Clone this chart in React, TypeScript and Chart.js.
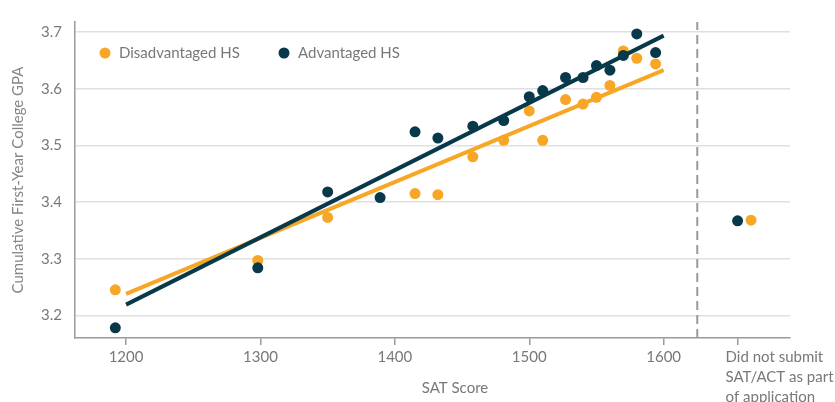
import { useEffect, useRef } from 'react';
import { Chart, registerables } from 'chart.js';

Chart.register(...registerables);

// ---- data ----
const disadvSat = [1192, 1298, 1350, 1415, 1432, 1458, 1481, 1500, 1510, 1527, 1540, 1550, 1560, 1570, 1580, 1594];
const disadvGpa = [3.245, 3.297, 3.373, 3.415, 3.413, 3.48, 3.509, 3.561, 3.509, 3.581, 3.573, 3.585, 3.606, 3.667, 3.654, 3.644];
const advSat = [1192, 1298, 1350, 1389, 1415, 1432, 1458, 1481, 1500, 1510, 1527, 1540, 1550, 1560, 1570, 1580, 1594];
const advGpa = [3.178, 3.284, 3.418, 3.408, 3.524, 3.513, 3.534, 3.544, 3.586, 3.597, 3.62, 3.62, 3.641, 3.633, 3.659, 3.697, 3.664];
const nonSubmitSat = [1665, 1655]; // [disadvantaged, advantaged] plotted beside the category tick
const nonSubmitGpa = [3.368, 3.367];
const disadvFitSat = [1200, 1600];
const disadvFitGpa = [3.238, 3.633];
const advFitSat = [1200, 1600];
const advFitGpa = [3.219, 3.694];
const xTickValues = [1200, 1300, 1400, 1500, 1600];
const nonSubmitTick = 1655;
const nonSubmitLabel = ['Did not submit', 'SAT/ACT as part', 'of application'];
const yTickValues = [3.2, 3.3, 3.4, 3.5, 3.6, 3.7];
const dividerSat = 1625;
const xRange = [1162, 1694];
const yRange = [3.16, 3.718];
const seriesNames = ['Disadvantaged HS', 'Advantaged HS'];

const ORANGE = '#F7A626';
const NAVY = '#08394B';
const TEXT = '#787878';
const AXIS = '#9a9a9a';
const GRID = '#e0e0e0';
const FONT = 'Lato, "Noto Sans", sans-serif';
const FS = 15;

const pts = (xs: number[], ys: number[]) => xs.map((x, i) => ({ x, y: ys[i] }));

const textPlugin = {
  id: 'customTexts',
  afterDraw(chart: any) {
    const { ctx, chartArea, scales } = chart;
    ctx.save();
    ctx.font = `${FS}px ${FONT}`;
    ctx.fillStyle = TEXT;
    ctx.textBaseline = 'middle';
    // legend (inside plot, top-left)
    const ly = chartArea.top + 31;
    const items = [
      { color: ORANGE, label: seriesNames[0], x: chartArea.left + 30 },
      { color: NAVY, label: seriesNames[1], x: chartArea.left + 209 },
    ];
    items.forEach((it) => {
      ctx.beginPath();
      ctx.fillStyle = it.color;
      ctx.arc(it.x, ly, 5.5, 0, Math.PI * 2);
      ctx.fill();
      ctx.fillStyle = TEXT;
      ctx.textAlign = 'left';
      ctx.fillText(it.label, it.x + 14, ly + 0.5);
    });
    // category label for non-submitters
    const px = scales.x.getPixelForValue(nonSubmitTick) - 12;
    ctx.textAlign = 'left';
    nonSubmitLabel.forEach((l, i) => ctx.fillText(l, px, chartArea.bottom + 19 + i * 20.3));
    // x title
    ctx.textAlign = 'center';
    ctx.fillText('SAT Score', (chartArea.left + chart.width) / 2, chartArea.bottom + 50);
    ctx.restore();
  },
};

export default function App() {
  const ref = useRef<HTMLCanvasElement | null>(null);
  useEffect(() => {
    if (!ref.current) return;
    const chart = new Chart(ref.current, {
      type: 'scatter',
      data: {
        datasets: [
          {
            type: 'line',
            label: 'adv fit',
            data: pts(advFitSat, advFitGpa),
            borderColor: NAVY,
            borderWidth: 4,
            pointRadius: 0,
            order: 1,
          } as any,
          {
            type: 'line',
            label: 'disadv fit',
            data: pts(disadvFitSat, disadvFitGpa),
            borderColor: ORANGE,
            borderWidth: 4,
            pointRadius: 0,
            order: 2,
          } as any,
          {
            label: seriesNames[1],
            data: [...pts(advSat, advGpa), { x: nonSubmitSat[1], y: nonSubmitGpa[1] }],
            backgroundColor: NAVY,
            borderWidth: 0,
            pointRadius: 5.5,
            order: 3,
          },
          {
            label: seriesNames[0],
            data: [...pts(disadvSat, disadvGpa), { x: nonSubmitSat[0], y: nonSubmitGpa[0] }],
            backgroundColor: ORANGE,
            borderWidth: 0,
            pointRadius: 5.5,
            order: 4,
          },
          {
            type: 'line',
            label: 'divider',
            data: [{ x: dividerSat, y: yRange[0] }, { x: dividerSat, y: yRange[1] }],
            borderColor: AXIS,
            borderWidth: 2,
            borderDash: [9, 5],
            pointRadius: 0,
            order: 5,
          } as any,
        ],
      },
      options: {
        animation: false,
        responsive: true,
        maintainAspectRatio: false,
        layout: { padding: { top: 12, right: 45, left: 0, bottom: 0 } },
        plugins: { legend: { display: false }, tooltip: { enabled: false } },
        scales: {
          x: {
            type: 'linear',
            min: xRange[0],
            max: xRange[1],
            afterBuildTicks: (s: any) => {
              s.ticks = [...xTickValues, nonSubmitTick].map((v) => ({ value: v }));
            },
            afterFit: (s: any) => {
              s.height = 64;
            },
            ticks: {
              color: TEXT,
              font: { family: FONT, size: FS },
              padding: 3,
              maxRotation: 0,
              autoSkip: false,
              callback: (v: any) => (v === nonSubmitTick ? '' : String(v)),
            },
            grid: { drawOnChartArea: false, drawTicks: true, tickLength: 7, color: AXIS, lineWidth: 1.5 },
            border: { display: true, color: AXIS, width: 1.5 },
          },
          y: {
            type: 'linear',
            min: yRange[0],
            max: yRange[1],
            afterBuildTicks: (s: any) => {
              s.ticks = yTickValues.map((v) => ({ value: v }));
            },
            afterFit: (s: any) => {
              s.width = 75;
            },
            ticks: {
              color: TEXT,
              font: { family: FONT, size: FS },
              padding: 13,
              callback: (v: any) => Number(v).toFixed(1),
            },
            grid: { color: GRID, lineWidth: 1.5, drawTicks: false },
            border: { display: true, color: AXIS, width: 1.5 },
            title: {
              display: true,
              text: 'Cumulative First-Year College GPA',
              color: '#858585',
              font: { family: FONT, size: FS },
              padding: { top: 9, bottom: 0 },
            },
          },
        },
      },
      plugins: [textPlugin],
    });
    return () => chart.destroy();
  }, []);
  return (
    <div style={{ position: 'fixed', left: 0, top: 0, width: 835, height: 402 }}>
      <canvas ref={ref} />
    </div>
  );
}
